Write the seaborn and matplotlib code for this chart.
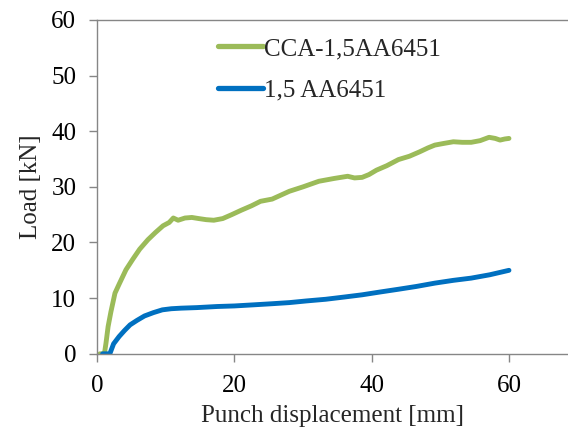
import matplotlib
matplotlib.use("Agg")
import matplotlib.pyplot as plt
import seaborn as sns
import pandas as pd

# CCA-1,5AA6451 (green)
cca_x = [0.4, 1.06, 1.3, 1.6, 2.0, 2.6, 3.2, 4.2, 5.2, 6.2, 7.4, 8.5, 9.6, 10.5, 11.1, 11.8,
         12.8, 13.8, 14.8, 15.9, 17.0, 18.3, 19.6, 21.0, 22.5, 23.8, 25.5, 28.0, 30.0,
         32.3, 34.5, 36.5, 37.5, 38.6, 39.6, 40.7, 42.2, 43.9, 45.5, 47.0, 48.2, 49.2,
         50.5, 51.9, 53.2, 54.5, 55.8, 57.1, 58.0, 58.7, 59.4, 60.0]
cca_y = [0.0, 0.0, 2.0, 4.9, 7.5, 10.9, 12.5, 15.1, 17.0, 18.8, 20.5, 21.8, 23.0, 23.6, 24.4, 24.0,
         24.4, 24.5, 24.3, 24.1, 24.0, 24.3, 25.0, 25.8, 26.6, 27.4, 27.8, 29.2, 30.0,
         31.0, 31.5, 31.9, 31.6, 31.7, 32.2, 33.0, 33.8, 34.9, 35.5, 36.3, 37.0, 37.5,
         37.8, 38.1, 38.0, 38.0, 38.3, 38.9, 38.7, 38.4, 38.6, 38.7]

# 1,5 AA6451 (blue)
aa_x = [0.8, 1.85, 2.4, 3.2, 4.0, 4.8, 5.8, 6.9, 8.2, 9.5, 10.8, 12.2, 14.5, 17.5,
        20.0, 22.8, 25.5, 28.0, 30.5, 33.3, 36.0, 38.6, 41.2, 43.9, 46.5, 49.2, 51.9,
        54.5, 57.2, 60.0]
aa_y = [0.0, 0.0, 1.8, 3.1, 4.2, 5.2, 6.0, 6.8, 7.4, 7.9, 8.1, 8.2, 8.3, 8.5,
        8.6, 8.8, 9.0, 9.2, 9.5, 9.8, 10.2, 10.6, 11.1, 11.6, 12.1, 12.7, 13.2,
        13.6, 14.2, 15.0]

series_names = ["CCA-1,5AA6451", "1,5 AA6451"]
x_ticks = [0, 20, 40, 60]
y_ticks = [0, 10, 20, 30, 40, 50, 60]

df = pd.concat([
    pd.DataFrame({"x": cca_x, "y": cca_y, "series": series_names[0]}),
    pd.DataFrame({"x": aa_x, "y": aa_y, "series": series_names[1]}),
], ignore_index=True)

sns.set_style("ticks")
plt.rcParams["font.family"] = ["Liberation Serif", "DejaVu Serif"]

fig = plt.figure(figsize=(5.68, 4.32), dpi=100)
ax = fig.add_axes([0.171, 0.181, 0.829, 0.773])

sns.lineplot(data=df, x="x", y="y", hue="series", hue_order=series_names,
             palette=["#9BBB59", "#0070C0"], linewidth=3.5, sort=False,
             estimator=None, ax=ax, legend=True)

ax.set_xlim(0, 68.6)
ax.set_ylim(0, 60)
ax.set_xticks(x_ticks)
ax.set_yticks(y_ticks)
ax.tick_params(axis="both", labelsize=18, colors="#868686", labelcolor="black",
               length=6, width=1, direction="out")
ax.tick_params(axis="y", pad=9)
ax.tick_params(axis="x", pad=9)
for s in ["left", "bottom", "top"]:
    ax.spines[s].set_color("#868686")
    ax.spines[s].set_linewidth(1)
ax.spines["right"].set_visible(False)
ax.set_xlabel("Punch displacement [mm]", fontsize=18, labelpad=6)
ax.set_ylabel("Load [kN]", fontsize=18, labelpad=7)

leg = ax.legend(loc="upper left", bbox_to_anchor=(0.225, 0.992), frameon=False,
                fontsize=18, handlelength=1.8, handletextpad=0.05, labelspacing=0.75,
                borderaxespad=0.2)
for line in leg.get_lines():
    line.set_linewidth(3.8)

fig.savefig("out.png", dpi=100)
